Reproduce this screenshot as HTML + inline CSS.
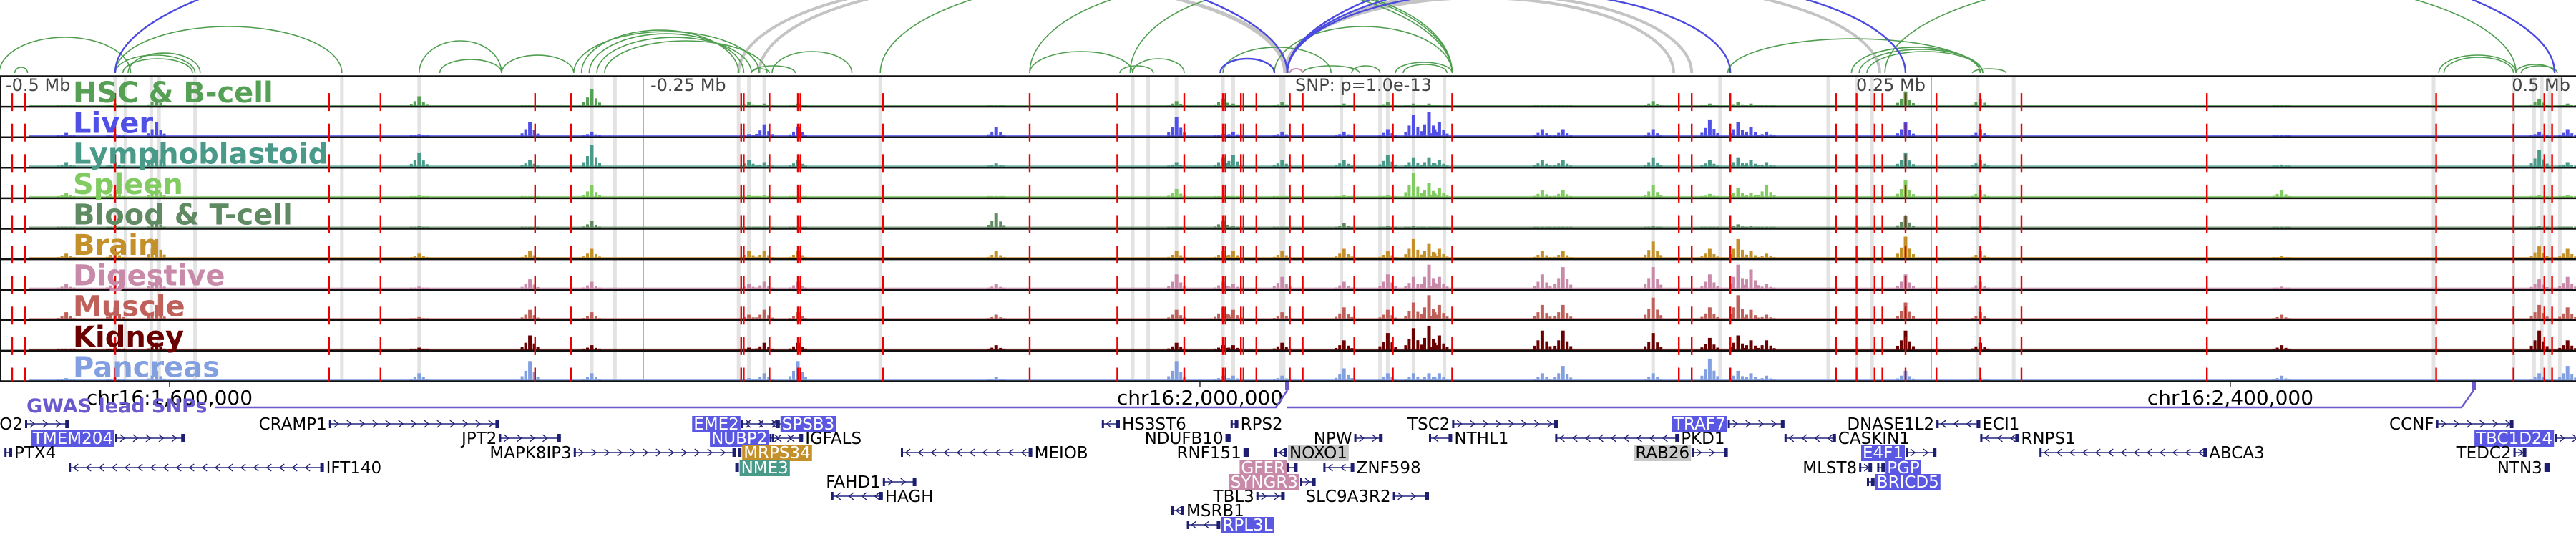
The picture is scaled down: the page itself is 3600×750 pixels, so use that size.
<!DOCTYPE html>
<html><head><meta charset="utf-8"><style>
html,body{margin:0;padding:0;background:#fff;}
svg{display:block;}
</style></head><body>
<svg id="fig" width="3600" height="750" viewBox="0 0 3600 750" xmlns="http://www.w3.org/2000/svg">
<g id="bands"></g>
<g id="arcs"></g>
<g id="tracks"></g>
<g id="reds"></g>
<g id="labels"></g>
<g id="axis"></g>
<g id="genes"></g>
</svg>
<script>
// ---- data ----
const tissues = ["HSC & B-cell","Liver","Lymphoblastoid","Spleen","Blood & T-cell","Brain","Digestive","Muscle","Kidney","Pancreas"];
const tissueColors = ["#55a055","#5050e6","#4a9a8a","#80cc60","#5f8a62","#c4902a","#c88aa8","#c0605a","#6a0000","#82a0e0"];
// peak positions in kb relative to the lead SNP (0)
const peakKb = [-474,-455,-439,-337,-294,-270,-209,-203,-190,-113,-43,-25,-21,-2,22,39,49,55,59,99,107,142,164,175,180,186,240,269,386,486,497];
const peakHsc = [.05,.1,.3,.4,.05,.7,.15,.1,.1,.05,.2,.3,.1,.15,.1,.15,.1,.1,.05,.05,.05,.2,.1,.15,.1,.05,.6,.3,.02,.3,.1];
const peakLiver = [.15,.1,.6,.1,.6,.2,.1,.5,.4,.4,.8,.1,.2,.2,.2,.3,.9,1,.6,.3,.3,.3,.7,.6,.4,.2,.6,.3,.05,.2,.3];
const peakLympho = [.2,.2,.7,.6,.3,.9,.3,.2,.3,.15,.2,.4,.5,.3,.3,.5,.4,.4,.3,.3,.3,.4,.3,.4,.3,.2,.6,.3,.1,.7,.2];
const peakSpleen = [.2,.3,.5,.1,.05,.5,.1,.1,.05,.02,.35,.05,.05,.05,.1,.1,1,.6,.4,.3,.3,.5,.15,.4,.2,.5,.7,.3,.3,.1,.1];
const peakBlood = [.05,.1,.3,.1,.05,.3,.05,.05,.05,.6,.05,.3,.1,.05,.2,.1,.1,.05,.05,.05,.05,.1,.05,.15,.1,.05,.5,.1,.02,.1,.05];
const peakBrain = [.2,.3,.8,.2,.3,.4,.3,.3,.3,.3,.3,.3,.3,.3,.4,.3,.8,.6,.4,.3,.3,.7,.4,.8,.3,.2,.9,.3,.1,.5,.4];
const peakDigestive = [.2,.3,.5,.1,.4,.3,.2,.3,.3,.2,.6,.3,.2,.5,.3,.6,.5,1,.5,.6,.9,.9,.6,1,.8,.2,.6,.3,.1,.4,.5];
const peakMuscle = [.3,.5,.6,.1,.4,.3,.2,.4,.3,.2,.4,.5,.4,.3,.5,.4,.7,1,.6,.6,.6,.9,.5,1,.4,.2,.7,.3,.2,.6,.5];
const peakKidney = [.05,.1,.3,.1,.6,.2,.1,.3,.3,.2,.3,.2,.2,.3,.4,.7,.9,1,.6,.8,.8,.7,.5,.6,.4,.4,.8,.3,.2,.8,.4];
const peakPancreas = [.1,.1,.4,.3,.8,.3,.1,.3,.8,.15,.8,.2,.2,.2,.5,.3,.3,.3,.3,.3,.6,.3,.9,.4,.3,.2,.4,.1,.2,.3,.6];
const peakSeries = [peakHsc,peakLiver,peakLympho,peakSpleen,peakBlood,peakBrain,peakDigestive,peakMuscle,peakKidney,peakPancreas];
// SNP (red) marker positions, kb
const snpKb = [-495,-490,-455,-372,-352,-292,-278,-212,-211,-201,-190,-189,-157,-100,-66,-40,-25,-24,-18,-17,-12,1,6,26,41,64,152,157,172,213,221,228,231,240,252,269,285,357,446,476,488,491];
// gray highlight bands, kb
const bandKb = [-455,-451,-441,-438,-424,-367,-337,-270,-261,-213,-209,-203,-158,-60,-54,-43,-25,-21,-2,21,36,39,49,61,142,168,210,221,227,268,282,445,476,484,487,490,494];
// arcs: [startKb, endKb, height]
const arcGreen = [[-500,-449,50],[-494,-489,8],[-455,-424,25],[-452,-425,20],[-450,-422,28],[-455,-367,65],[-337,-305,45],[-329,-305,19],[-305,-277,25],[-277,-205,58],[-274,-213,60],[-271,-211,55],[-268,-208,50],[-265,-202,45],[-200,-169,30],[-208,-191,10],[-158,64,140],[-100,64,130],[-61,64,120],[-100,-60,30],[-65,-52,10],[-60,-40,20],[-25,17,36],[-5,64,65],[6,28,10],[25,36,10],[42,64,15],[45,62,12],[171,269,48],[219,269,36],[222,270,33],[225,270,30],[232,477,140],[447,477,25],[449,476,22],[477,492,12],[479,493,10],[-208,-201,6],[266,279,6]];
const arcGray = [[-213,-1,130],[-205,0,128],[-1,230,131],[-1,157,110],[-1,150,105]];
const arcBlue = [[-455,0,200],[-26,-5,20],[0,172,115],[0,240,140],[0,492,208]];
const arcPink = [[1,6,6]];
// genes: [name, startKb, endKb, row, labelSide, highlight, strand]
const genes = [
 ["O2",-490,-473,0,"L","",1],["CRAMP1",-372,-306,0,"L","",1],["EME2",-212,-194,0,"L","#5a58e2",1],["SPSB3",-212,-197,0,"R","#5a58e2",-1],
 ["TMEM204",-455,-428,1,"L","#5a58e2",1],["JPT2",-306,-282,1,"L","",1],["NUBP2",-201,-188,1,"L","#5a58e2",1],["IGFALS",-200,-188,1,"R","",-1],
 ["PTX4",-498,-495,2,"R","",-1],["MAPK8IP3",-277,-214,2,"L","",1],["MRPS34",-213,-212,2,"R","#c4902a",1],
 ["IFT140",-473,-374,3,"R","",-1],["NME3",-214,-213,3,"R","#4a9a8a",1],
 ["FAHD1",-157,-144,4,"L","",1],["HAGH",-177,-157,5,"R","",-1],
 ["HS3ST6",-72,-65,0,"R","",-1],["RPS2",-22,-19,0,"R","",-1],["TSC2",64,105,0,"L","",1],["TRAF7",171,193,0,"L","#5a58e2",1],
 ["NDUFB10",-24,-22,1,"L","",1],["NPW",26,37,1,"L","",1],["NTHL1",55,64,1,"R","",-1],["PKD1",104,152,1,"R","",-1],
 ["MEIOB",-150,-99,2,"R","",-1],["RNF151",-17,-15,2,"L","",1],["NOXO1",-5,0,2,"R","#c8c8c8",-1],["RAB26",157,171,2,"L","#c8c8c8",1],
 ["GFER",0,4,3,"L","#c88aa8",1],["ZNF598",14,26,3,"R","",-1],
 ["SYNGR3",5,11,4,"L","#c88aa8",1],["TBL3",-12,-1,5,"L","",1],["SLC9A3R2",41,55,5,"L","",1],
 ["MSRB1",-45,-40,6,"R","",-1],["RPL3L",-39,-26,7,"R","#5a58e2",-1],
 ["DNASE1L2",252,269,0,"L","",-1],["ECI1",252,269,0,"R","",-1],["CCNF",446,476,0,"L","",1],
 ["CASKIN1",193,213,1,"R","",-1],["RNPS1",269,284,1,"R","",-1],["TBC1D24",492,502,1,"L","#5a58e2",1],
 ["E4F1",240,252,2,"L","#5a58e2",1],["ABCA3",292,357,2,"R","",-1],["TEDC2",476,481,2,"L","",1],
 ["MLST8",222,227,3,"L","",1],["PGP",229,232,3,"R","#5a58e2",-1],["NTN3",488,490,3,"L","",1],
 ["BRICD5",225,228,4,"R","#5a58e2",-1]
];
const chrTicks = [1600000,2000000,2400000];
const chrTickLabels = ["chr16:1,600,000","chr16:2,000,000","chr16:2,400,000"];
const relTicks = [-500,-250,250,500];
const relTickLabels = ["-0.5 Mb","-0.25 Mb","0.25 Mb","0.5 Mb"];
const snpPos = 2033900;

// ---- scales ----
const X0 = 1799, PXKB = 3.6;
const xk = kb => X0 + kb*PXKB;
const xg = pos => X0 + (pos - snpPos)/1000*PXKB;
const TOP = 106.5, TH = 42.6, BASE = 102;
const NS = "http://www.w3.org/2000/svg";
function mk(tag, attrs, parent){ const e=document.createElementNS(NS,tag); for(const k in attrs) e.setAttribute(k,attrs[k]); if(parent) parent.appendChild(e); return e; }

const gBands=document.getElementById('bands'), gArcs=document.getElementById('arcs'), gTracks=document.getElementById('tracks'),
 gReds=document.getElementById('reds'), gLabels=document.getElementById('labels'), gAxis=document.getElementById('axis'), gGenes=document.getElementById('genes');

// bands
bandKb.forEach(k=>{
  const w = (k===-2)?9:5;
  const r=mk('rect',{x:xk(k)-w/2,y:TOP,width:w,height:TH*10,fill:'#e3e3e3'},gBands);
  
  
});
relTicks.forEach(k=>{ if(Math.abs(k)<500){ const l=mk('line',{x1:xk(k),x2:xk(k),y1:TOP,y2:TOP+TH*10,stroke:'#999','stroke-width':1.5},gBands);
  
   }});

// arcs
function drawArcs(list,color,w){
  list.forEach(a=>{
    const x1=xk(a[0]), x2=xk(a[1]); const rx=(x2-x1)/2;
    const p=mk('path',{d:`M${x1},${BASE} A${rx},${a[2]} 0 0 1 ${x2},${BASE}`,fill:'none',stroke:color,'stroke-width':w},gArcs);
    
    
  });
}
drawArcs(arcGray,'#c4c4c4',4);
drawArcs(arcGreen,'#4f9e4f',1.6);
drawArcs(arcBlue,'#4a4ae0',2.4);
drawArcs(arcPink,'#c88aa8',2);

// tracks
const MAXH = 34;
tissues.forEach((t,i)=>{
  const bot = TOP + TH*(i+1);
  const col = tissueColors[i];
  const g = mk('g',{},gTracks);
  
  
  mk('rect',{x:40,y:bot-3,width:3555,height:2,fill:col,opacity:0.8},g);
  peakKb.forEach((k,j)=>{
    const h = peakSeries[i][j]*MAXH; const cx=xk(k);
    [[0,1,5],[-6,.5,4],[6,.45,4],[-11,.22,4],[11,.2,4]].forEach(s=>{
      const hh=Math.max(2,h*s[1]);
      const r=mk('rect',{x:cx+s[0]-s[2]/2,y:bot-1-hh,width:s[2],height:hh,fill:col},g);
      
      
    });
  });
  const ln=mk('line',{x1:0,x2:3600,y1:bot,y2:bot,stroke:'#111','stroke-width':2.5},g);
  
  
});
mk('line',{x1:0,x2:3600,y1:TOP,y2:TOP,stroke:'#111','stroke-width':2.5},gTracks);
mk('line',{x1:1,x2:1,y1:TOP,y2:TOP+TH*10,stroke:'#111','stroke-width':2},gTracks);

// red SNP markers
snpKb.forEach(k=>{
  const x=xk(k);
  for(let i=0;i<10;i++){
    const bot=TOP+TH*(i+1);
    const l=mk('line',{x1:x,x2:x,y1:bot-19,y2:Math.min(bot+6,TOP+TH*10),stroke:'#ee0000','stroke-width':2.4},gReds);
    
    
  }
});

// track labels
tissues.forEach((t,i)=>{
  const bot=TOP+TH*(i+1);
  const tx=mk('text',{x:102,y:bot-6,fill:tissueColors[i],'font-family':'DejaVu Sans, sans-serif','font-weight':'bold','font-size':40},gLabels);
  tx.textContent=t;
  
  
});

// relative tick labels
relTicks.forEach((k,i)=>{
  let x=xk(k)+10, anchor='start';
  if(k===-500) x=8; if(k===500){x=3592;anchor='end';}
  if(k===250){x=xk(k)-8;anchor='end';}
  const tx=mk('text',{x:x,y:127,fill:'#444','font-family':'DejaVu Sans, sans-serif','font-size':24,'text-anchor':anchor},gAxis);
  tx.textContent=relTickLabels[i];
  
  
});
const snpT=mk('text',{x:1810,y:127,fill:'#444','font-family':'DejaVu Sans, sans-serif','font-size':24},gAxis);
snpT.textContent='SNP: p=1.0e-13';



// chromosome ticks
chrTicks.forEach((p,i)=>{
  const x=xg(p);
  mk('line',{x1:x,x2:x,y1:533,y2:540,stroke:'#333','stroke-width':1.5},gAxis);
  const tx=mk('text',{x:x,y:565,fill:'#000','font-family':'DejaVu Sans, sans-serif','font-size':28,'text-anchor':'middle'},gAxis);
  tx.textContent=chrTickLabels[i];
  
  
});
const gw=mk('text',{x:37,y:576,fill:'#6a5acd','font-family':'DejaVu Sans, sans-serif','font-weight':'bold','font-size':27},gAxis);
gw.textContent='GWAS lead SNPs';


const gp=mk('path',{d:`M300,569 L1783,569 L1799,545 M1799,569 L3440,569 L3457,545`,fill:'none',stroke:'#6a5acd','stroke-width':2.5},gAxis);


[1799,3457].forEach(x=>{ const r=mk('rect',{x:x-3,y:533,width:6,height:12,fill:'#6a5acd'},gAxis);
  
   });

// genes
const rowY=[592,612,632,653,673,693,713,733];
genes.forEach(gd=>{
  const [name,s,e,row,side,hl,strand]=gd;
  const y=rowY[row]; const x1=xk(s), x2=Math.max(xk(e),xk(s)+4);
  const g=mk('g',{},gGenes);
  
  
  const bg=mk('g',{},g);
  mk('line',{x1:x1,x2:x2,y1:y,y2:y,stroke:'#5a5aa0','stroke-width':2},g);
  for(let cx=x1+10; cx<x2-6; cx+=18){
    const d = strand>0 ? `M${cx-3},${y-5} L${cx+3},${y} L${cx-3},${y+5}` : `M${cx+3},${y-5} L${cx-3},${y} L${cx+3},${y+5}`;
    mk('path',{d:d,fill:'none',stroke:'#1e1e70','stroke-width':1.4},g);
  }
  mk('rect',{x:x1,y:y-6,width:3,height:12,fill:'#1e1e70'},g);
  mk('rect',{x:x2-5,y:y-6,width:5,height:12,fill:'#1e1e70'},g);
  const fs=23;
  const anchor = side==='L' ? 'end' : 'start';
  const lx = side==='L' ? x1-3 : x2+3;
  const tx=mk('text',{x:lx,y:y+8,'text-anchor':anchor,fill:(hl&&hl!=='#c8c8c8')?'#fff':'#000','font-family':'DejaVu Sans, sans-serif','font-size':fs},g);
  tx.textContent=name;
  if(hl){
    let w=name.length*fs*0.66;
    try{ w=tx.getComputedTextLength(); }catch(err){}
    const bx = anchor==='end'? lx-w-2 : lx-2;
    mk('rect',{x:bx,y:y-11,width:w+4,height:23,fill:hl},bg);
  }
});
</script>
</body></html>
